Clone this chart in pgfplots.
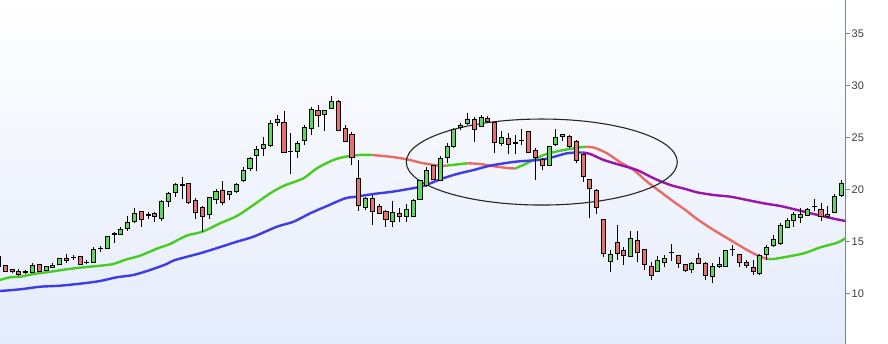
\documentclass[border=0pt]{standalone}
\usepackage{pgfplots}
\usepackage{pgfplotstable}
\pgfplotsset{compat=1.18}
\usepackage{fontspec}
\setmainfont{Liberation Sans}
\definecolor{cgreen}{RGB}{95,215,95}
\definecolor{cred}{RGB}{230,112,112}
\definecolor{magreen}{RGB}{70,205,30}
\definecolor{mared}{RGB}{232,108,100}
\definecolor{mablue}{RGB}{60,60,235}
\definecolor{mapurple}{RGB}{155,20,170}
\definecolor{bgblue}{RGB}{228,235,251}
\definecolor{axisgray}{RGB}{120,135,150}
\definecolor{labelgray}{RGB}{60,60,60}

\pgfplotstableread{
i O H L C
0 12.55 13.60 12.50 13.55
1 12.69 12.75 12.05 12.11
2 12.33 12.35 11.92 12.05
3 12.05 12.36 11.66 11.82
4 12.05 12.21 11.89 12.03
5 12.02 12.91 11.92 12.69
6 12.79 12.80 12.05 12.14
7 12.21 12.60 12.14 12.53
8 12.49 12.91 12.43 12.72
9 12.79 13.42 12.69 13.30
10 13.39 13.78 12.90 13.17
11 13.45 13.65 13.20 13.40
12 13.58 13.60 12.77 12.79
13 12.98 13.17 12.79 12.96
14 12.98 14.48 12.95 14.23
15 14.28 14.55 13.97 14.32
16 14.29 15.54 14.27 15.48
17 15.68 15.89 14.80 15.72
18 15.67 16.40 15.60 16.18
19 16.21 17.46 16.02 16.85
20 16.92 18.17 16.73 17.72
21 17.88 17.95 16.40 17.11
22 17.55 17.81 17.17 17.51
23 17.72 17.84 16.88 17.40
24 17.17 18.97 16.98 18.84
25 18.84 19.74 18.32 19.61
26 19.71 20.65 19.29 20.48
27 20.43 21.15 19.10 20.39
28 20.58 20.60 18.60 18.71
29 18.94 19.19 17.11 17.79
30 18.27 18.39 15.92 17.36
31 17.62 19.29 17.10 19.23
32 19.00 20.00 18.58 19.74
33 19.93 20.83 18.46 18.75
34 19.52 19.82 18.98 19.80
35 19.77 20.60 19.60 20.48
36 20.82 22.17 20.70 21.82
37 21.98 23.13 21.79 22.98
38 23.23 24.16 21.79 23.84
39 23.90 25.06 23.23 24.35
40 24.23 26.66 24.10 26.34
41 26.40 27.14 26.11 26.73
42 26.44 27.56 23.52 23.56
43 23.64 25.38 21.47 23.60
44 23.65 24.64 23.04 24.45
45 24.71 26.18 24.23 25.96
46 25.86 27.94 25.22 27.69
47 27.59 28.10 26.02 27.11
48 27.21 27.65 25.60 27.62
49 27.79 28.97 27.75 28.42
50 28.46 28.60 25.60 25.67
51 25.86 26.20 24.50 24.58
52 25.29 25.50 22.31 23.07
53 21.06 22.81 17.96 18.46
54 18.23 19.30 17.98 19.07
55 19.13 19.45 16.60 17.91
56 18.30 18.55 17.60 17.69
57 17.88 18.00 16.40 17.05
58 16.92 18.87 16.40 17.79
59 17.69 18.17 16.88 17.36
60 17.43 18.60 16.90 18.01
61 17.36 19.10 17.30 18.97
62 19.04 20.90 19.00 20.80
63 20.32 22.17 20.19 21.85
64 22.24 22.33 20.90 20.96
65 20.89 23.18 20.85 22.98
66 23.07 24.42 22.50 24.16
67 24.09 25.90 24.00 25.77
68 25.96 26.38 25.74 26.18
69 26.34 27.36 26.18 26.73
70 26.73 26.98 24.58 25.77
71 26.08 27.10 26.00 26.92
72 26.79 27.04 26.40 26.47
73 26.40 26.60 23.52 24.52
74 24.42 25.60 24.20 25.00
75 24.90 25.44 23.39 24.26
76 24.47 25.20 23.40 24.43
77 24.69 25.77 24.26 24.65
78 25.54 25.60 23.50 23.56
79 23.71 23.94 20.89 23.07
80 22.90 23.00 21.85 22.33
81 22.33 24.15 22.30 24.09
82 24.26 25.80 24.20 25.00
83 25.06 25.30 24.60 25.25
84 25.12 25.20 24.00 24.09
85 24.64 24.70 22.50 22.81
86 23.30 23.35 20.73 21.25
87 20.96 21.00 17.21 20.09
88 19.93 20.00 17.60 18.27
89 17.05 17.10 13.50 13.84
90 13.07 14.16 12.07 13.75
91 14.90 16.57 13.20 13.84
92 14.13 14.48 12.72 13.65
93 13.52 15.99 13.50 15.29
94 15.06 15.99 13.04 13.97
95 14.23 14.25 12.24 12.79
96 12.62 13.00 11.28 11.73
97 12.11 13.60 12.05 13.13
98 12.98 13.68 12.56 13.36
99 13.92 14.71 13.13 13.88
100 13.65 13.70 12.45 12.82
101 12.79 12.85 12.05 12.17
102 12.30 13.00 11.96 12.91
103 13.30 13.84 12.85 12.88
104 12.88 13.04 11.28 11.69
105 11.63 12.88 11.02 12.56
106 12.56 13.52 12.40 12.79
107 12.56 14.20 12.50 14.16
108 14.25 14.64 13.61 14.21
109 13.75 13.80 12.56 12.98
110 12.98 13.20 12.40 12.69
111 12.49 13.20 11.76 12.07
112 11.88 13.75 11.76 13.65
113 13.71 14.61 13.20 14.45
114 14.57 15.63 14.48 15.19
115 14.77 16.73 14.64 16.50
116 16.31 17.20 16.25 17.02
117 17.02 17.84 16.40 17.62
118 17.27 18.17 16.79 17.59
119 17.50 18.20 17.45 18.08
120 18.35 19.04 17.91 18.31
121 18.08 18.65 16.98 17.43
122 17.59 18.42 17.20 17.36
123 17.79 19.55 17.69 19.29
124 19.38 20.89 19.29 20.58
}\candles

\begin{document}
\begin{tikzpicture}
\useasboundingbox (0,0) rectangle (888bp,344bp);
\begin{axis}[
  scale only axis, width=845.5bp, height=344bp,
  at={(0,0)}, anchor=south west,
  xmin=0.22, xmax=124.6, ymin=5.125, ymax=38.2,
  axis x line=none, axis y line=right,
  axis line style={-, draw=axisgray, line width=1bp},
  ytick={10,15,20,25,30,35},
  tick align=outside, major tick length=4bp,
  tick style={draw=axisgray, line width=1bp},
  yticklabel style={font=\fontsize{11bp}{13bp}\selectfont, text=labelgray, inner sep=2bp},
  /pgf/number format/assume math mode=true,
  axis background/.style={top color=white, bottom color=bgblue},
  clip=true,
]
% short moving average
\addplot[magreen, line width=2.4bp, smooth] coordinates {
(0.22,11.28) (1.69,11.54) (3.16,11.59) (5.12,11.85) (7.58,12.07) (10.04,12.31) (12.48,12.50) (14.94,12.65) (16.9,12.82) (18.87,13.27) (20.83,13.61) (23.29,14.29) (25.24,14.74) (27.7,15.55) (30.0,15.92) (32.6,16.73) (35.06,17.43) (37.5,18.49) (39.96,19.61) (41.92,20.32) (44.86,21.06) (46.84,22.02) (49.28,22.82) (51.0,23.13) (51.74,23.2) (53.21,23.3) (54.97,23.3)};
\addplot[mared, line width=2.4bp, smooth] coordinates {
(54.97,23.3) (57.62,23.13) (60.08,22.88) (62.52,22.5) (64.98,22.27) (65.87,22.27)};
\addplot[magreen, line width=2.4bp, smooth] coordinates {
(65.87,22.27) (67.34,22.38) (68.96,22.5)};
\addplot[mared, line width=2.4bp, smooth] coordinates {
(68.96,22.5) (70.87,22.43) (73.33,22.17) (75.29,22.02) (76.02,22.0)};
\addplot[magreen, line width=2.4bp, smooth] coordinates {
(76.02,22.0) (77.74,22.5) (80.19,23.3) (82.65,23.71) (85.59,24.04) (86.47,24.07)};
\addplot[mared, line width=2.4bp, smooth] coordinates {
(86.47,24.07) (87.55,24.02) (89.52,23.46) (91.48,22.59) (93.44,21.85) (95.41,20.73) (97.36,19.77) (99.32,18.81) (101.04,18.01) (102.76,17.14) (105.21,16.08) (107.67,15.12) (110.13,14.16) (112.08,13.52) (113.26,13.3)};
\addplot[magreen, line width=2.4bp, smooth] coordinates {
(113.26,13.3) (114.04,13.3) (116.01,13.52) (118.46,13.84) (120.92,14.42) (123.37,14.86) (124.6,15.29)};
% long moving average
\addplot[mablue, line width=2.4bp, smooth] coordinates {
(0.22,10.22) (3.16,10.38) (6.11,10.63) (9.05,10.73) (12.48,10.96) (14.94,11.18) (17.4,11.54) (19.84,11.76) (22.3,12.24) (24.76,12.82) (25.98,13.2) (30.15,13.94) (35.06,14.96) (37.5,15.44) (40.95,16.4) (43.39,16.88) (45.85,17.69) (48.31,18.39) (51.0,19.13) (52.72,19.29) (55.17,19.55) (57.62,19.74) (60.08,20.0) (62.52,20.32) (64.98,20.96) (67.44,21.47) (69.89,21.85) (72.34,22.27) (76.02,22.65) (80.19,22.88) (83.63,23.46) (85.9,23.54)};
\addplot[mapurple, line width=2.4bp, smooth] coordinates {
(85.9,23.54) (87.06,23.39) (89.02,22.82) (91.48,22.33) (93.93,21.85) (96.38,21.06) (98.84,20.41) (101.04,20.03) (102.76,19.71) (105.21,19.45) (107.67,19.29) (110.13,18.97) (112.57,18.65) (115.03,18.39) (117.49,18.01) (119.93,17.62) (122.39,17.24) (124.6,16.95)};
% wicks
\addplot[draw=none, mark=none,
  error bars/.cd, y dir=plus, y explicit, error mark=none,
  error bar style={draw=black, line width=1bp}]
  table[x=i, y=L, y error expr=\thisrow{H}-\thisrow{L}] {\candles};
\end{axis}
\begin{axis}[
  scale only axis, width=845.5bp, height=344bp,
  at={(0,0)}, anchor=south west,
  xmin=0.22, xmax=124.6, ymin=5.125, ymax=38.2,
  hide axis, ybar stacked, bar width=0.6, clip=true,
]
\addplot[draw=none, fill=none] table[x=i, y expr={min(\thisrow{O},\thisrow{C})}] {\candles};
\addplot[fill=cgreen, draw=black, line width=1bp] table[x=i, y expr={max(\thisrow{C}-\thisrow{O},0)}] {\candles};
\addplot[fill=cred, draw=black, line width=1bp] table[x=i, y expr={max(\thisrow{O}-\thisrow{C},0)}] {\candles};
\draw[black!85, line width=1.1bp] (axis cs:79.92,22.62) ellipse [x radius=135.5bp, y radius=43bp];
\end{axis}
\end{tikzpicture}
\end{document}
